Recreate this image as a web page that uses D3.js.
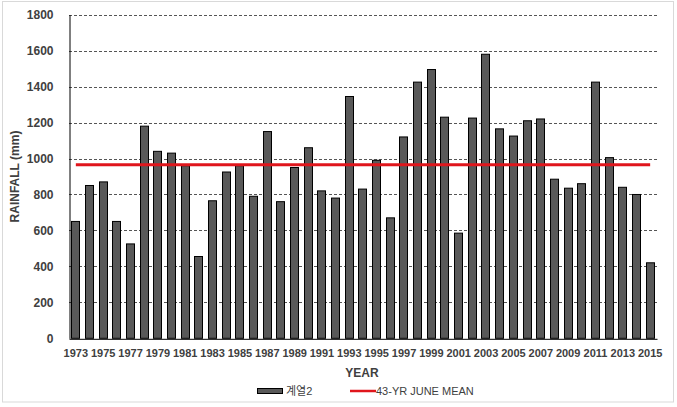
<!DOCTYPE html>
<html>
<head>
<meta charset="utf-8">
<script src="https://cdn.jsdelivr.net/npm/d3@7"></script>
<style>
  body { margin: 0; background: #fff; }
  text { font-family: "Liberation Sans", Arial, "Noto Sans CJK KR", sans-serif; }
</style>
</head>
<body>
<script>
var years = [1973,1974,1975,1976,1977,1978,1979,1980,1981,1982,1983,1984,1985,1986,1987,1988,1989,1990,1991,1992,1993,1994,1995,1996,1997,1998,1999,2000,2001,2002,2003,2004,2005,2006,2007,2008,2009,2010,2011,2012,2013,2014,2015];
var rainfall = [650,850,870,650,525,1180,1040,1030,960,455,765,925,960,790,1150,760,950,1060,820,780,1345,830,990,670,1120,1425,1495,1230,585,1225,1580,1165,1125,1210,1220,885,835,860,1425,1005,840,800,420];
var juneMean = 966;
var yTicks = [0,200,400,600,800,1000,1200,1400,1600,1800];
var seriesNames = ["계열2", "43-YR JUNE MEAN"];

var W = 677, H = 407;
var plotL = 69, plotR = 657, plotT = 14.7, plotB = 338.3;

var svg = d3.select("body").append("svg").attr("width", W).attr("height", H);

// outer chart border
svg.append("rect")
  .attr("x", 2.5).attr("y", 1.5).attr("width", 671).attr("height", 400.5)
  .attr("fill", "#fff").attr("stroke", "#d9d9d9");

var x = d3.scaleBand().domain(years).range([plotL, plotR]).paddingInner(0.33).paddingOuter(0.165);
var y = d3.scaleLinear().domain([0, 1800]).range([plotB, plotT]);

// gridlines
svg.append("g").selectAll("line")
  .data(yTicks.slice(1))
  .enter().append("line")
  .attr("x1", plotL).attr("x2", plotR)
  .attr("y1", function(d){ return Math.round(y(d)) + 0.5; })
  .attr("y2", function(d){ return Math.round(y(d)) + 0.5; })
  .attr("stroke", "#555").attr("stroke-width", 1)
  .attr("stroke-dasharray", "3,2");

// bars
svg.append("g").selectAll("rect")
  .data(rainfall)
  .enter().append("rect")
  .attr("x", function(d, i){ return Math.round(x(years[i])) + 0.5; })
  .attr("y", function(d){ return y(d); })
  .attr("width", Math.round(x.bandwidth()) - 1)
  .attr("height", function(d){ return plotB - y(d); })
  .attr("fill", "#595959").attr("stroke", "#000").attr("stroke-width", 1);

// mean line
svg.append("line")
  .attr("x1", x(years[0]) + x.bandwidth() / 2)
  .attr("x2", x(years[years.length - 1]) + x.bandwidth() / 2)
  .attr("y1", y(juneMean)).attr("y2", y(juneMean))
  .attr("stroke", "#e0161c").attr("stroke-width", 3);

// axes
var yAxis = svg.append("g")
  .attr("transform", "translate(" + (plotL + 0.5) + ",0)")
  .call(d3.axisLeft(y).tickValues(yTicks).tickFormat(d3.format("d")).tickSize(0).tickPadding(16));
yAxis.select(".domain").attr("stroke", "#000");
yAxis.selectAll("text")
  .attr("font-size", 12).attr("font-weight", "bold").attr("fill", "#404040");

var xAxis = svg.append("g")
  .attr("transform", "translate(0," + (plotB + 0.5) + ")")
  .call(d3.axisBottom(x).tickValues(years.filter(function(d, i){ return i % 2 === 0; })).tickSize(0).tickPadding(10));
xAxis.select(".domain").attr("stroke", "#000");
xAxis.selectAll("text")
  .attr("font-size", 11).attr("font-weight", "bold").attr("fill", "#404040");

// axis titles
svg.append("text")
  .attr("transform", "translate(19," + ((plotT + plotB) / 2) + ") rotate(-90)")
  .attr("text-anchor", "middle")
  .attr("font-size", 12).attr("font-weight", "bold").attr("fill", "#404040")
  .text("RAINFALL (mm)");

svg.append("text")
  .attr("x", 362).attr("y", 377)
  .attr("text-anchor", "middle")
  .attr("font-size", 12).attr("font-weight", "bold").attr("fill", "#404040")
  .text("YEAR");

// legend
var lg = svg.append("g");
lg.append("rect")
  .attr("x", 257.5).attr("y", 388.5).attr("width", 25).attr("height", 5)
  .attr("fill", "#595959").attr("stroke", "#000");
lg.append("text")
  .attr("x", 286).attr("y", 395)
  .attr("font-size", 11).attr("fill", "#404040")
  .text(seriesNames[0]);
lg.append("line")
  .attr("x1", 350).attr("x2", 376).attr("y1", 391).attr("y2", 391)
  .attr("stroke", "#e0161c").attr("stroke-width", 2.5);
lg.append("text")
  .attr("x", 376).attr("y", 395)
  .attr("font-size", 11).attr("fill", "#404040")
  .text(seriesNames[1]);
</script>
</body>
</html>
